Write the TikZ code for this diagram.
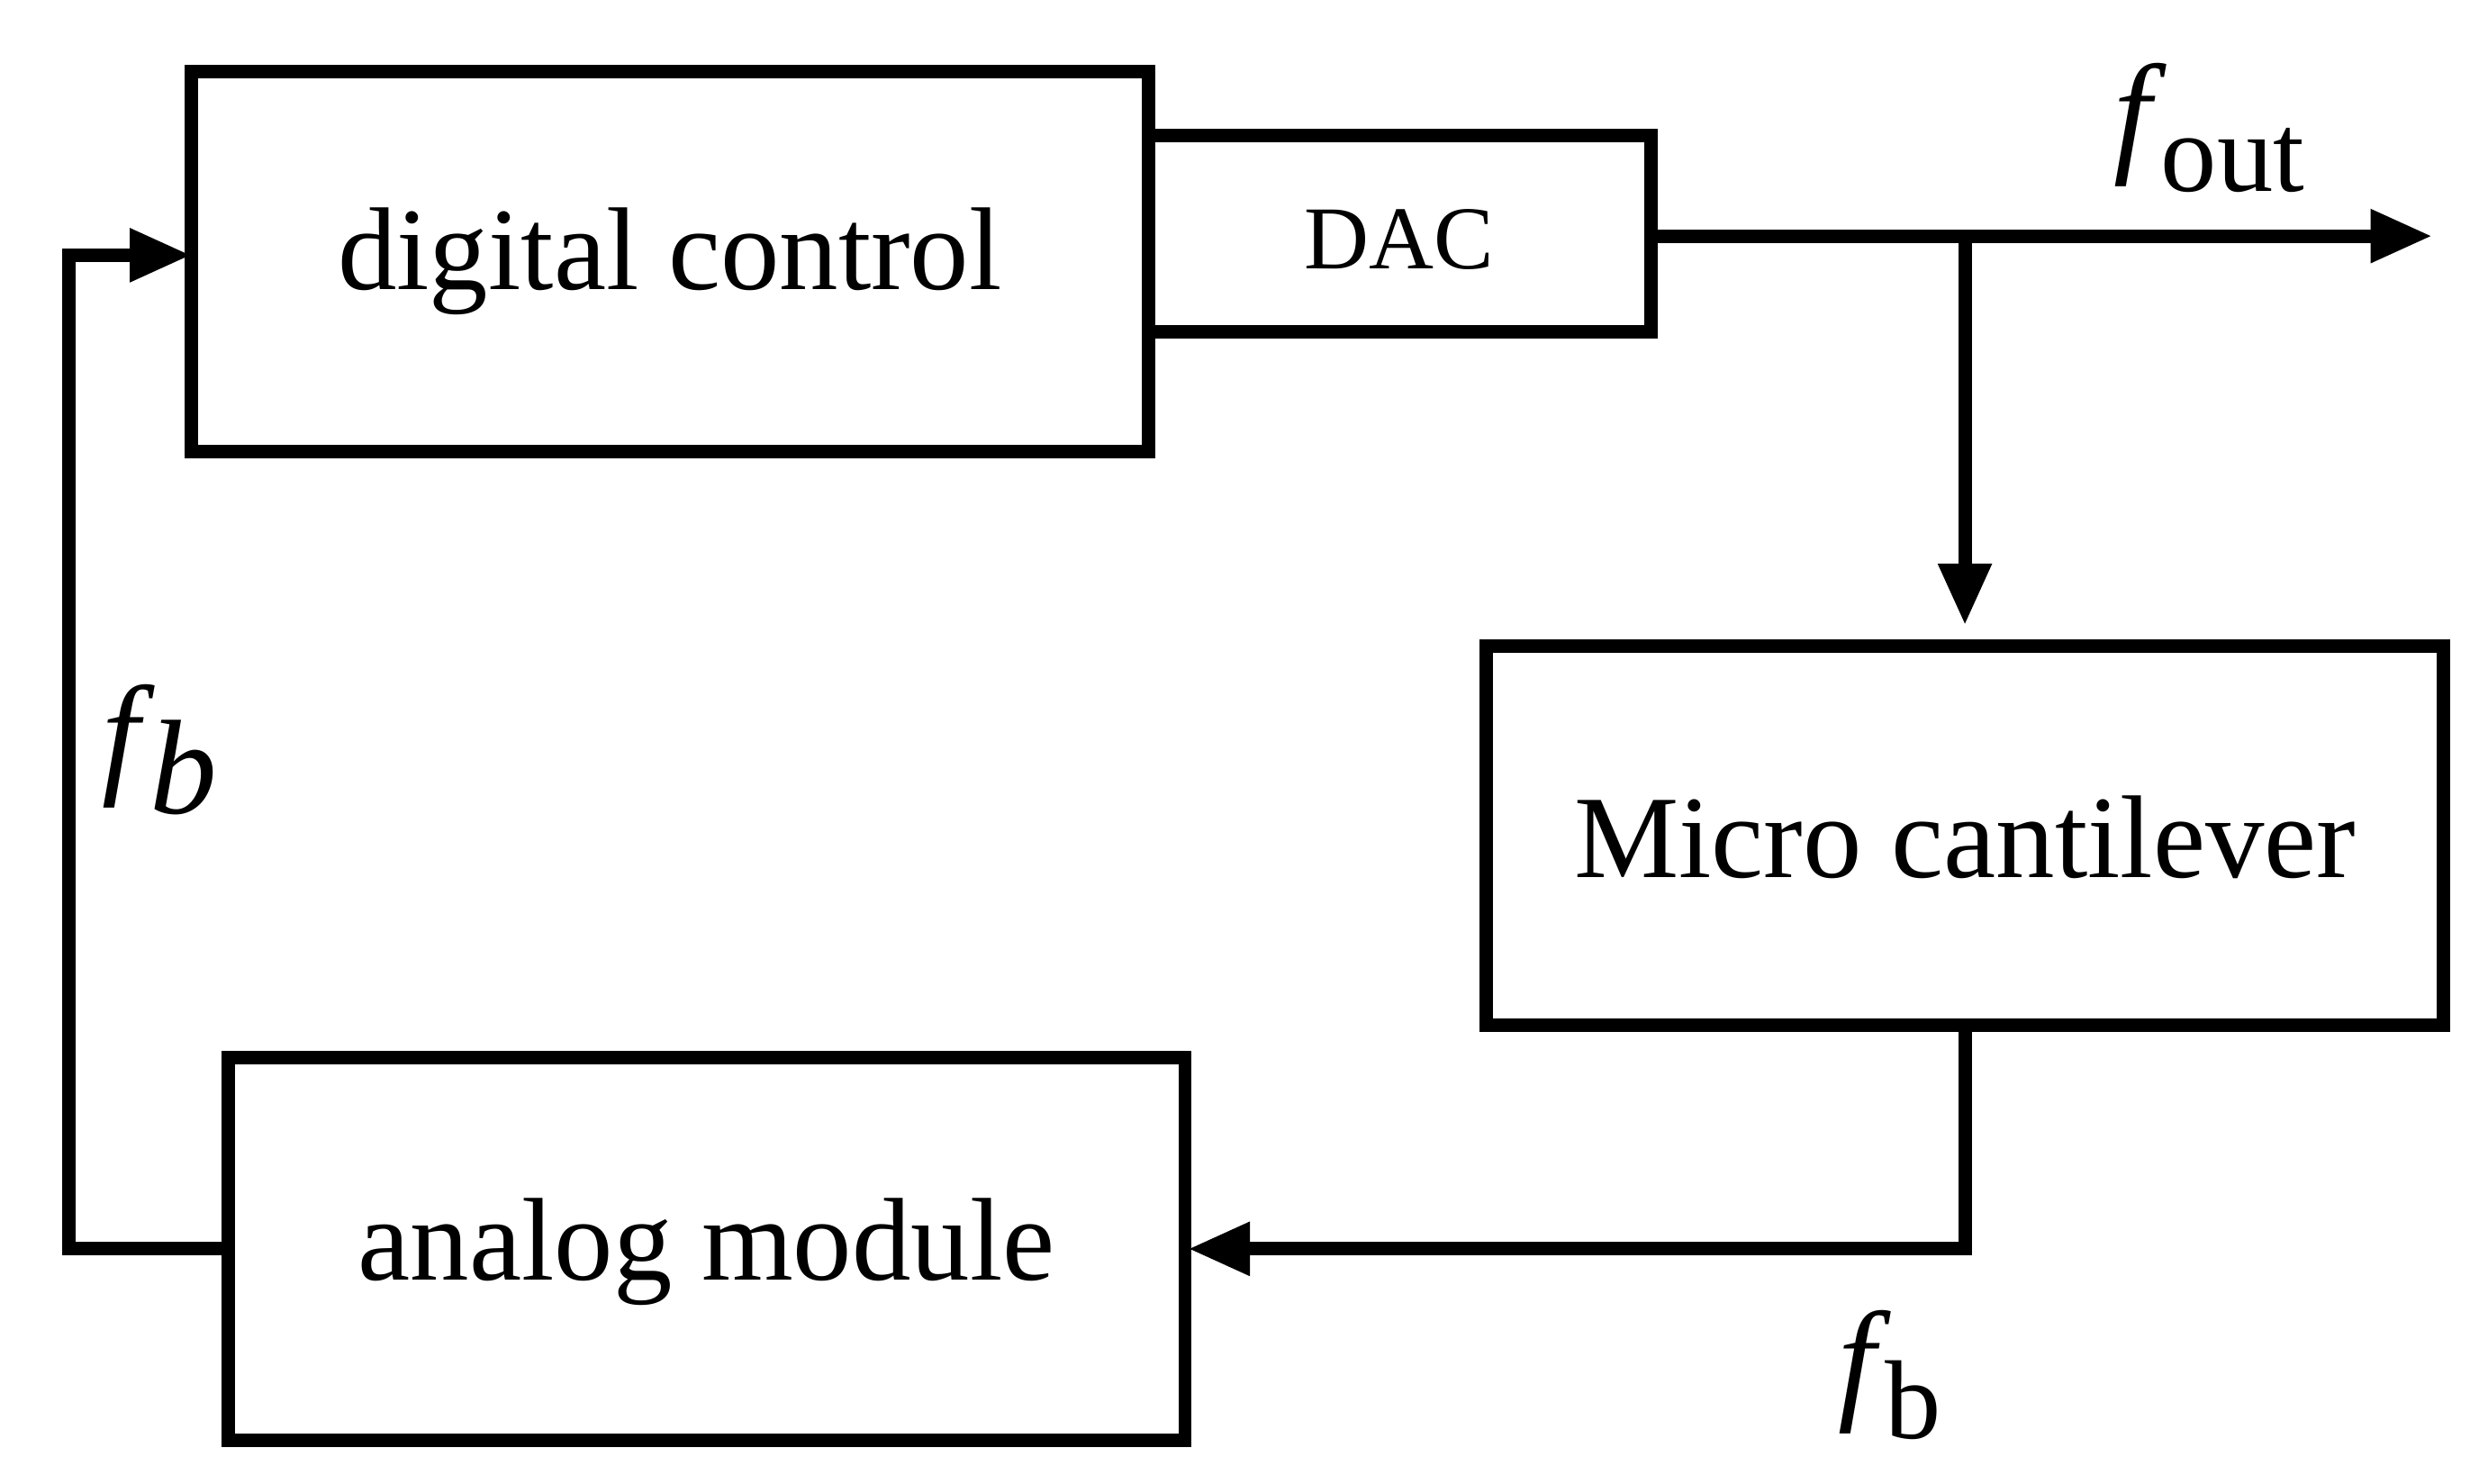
\documentclass[tikz,border=0pt]{standalone}
\usepackage{fontspec}
\setmainfont{Liberation Serif}
\usetikzlibrary{arrows.meta}
\begin{document}
\begin{tikzpicture}[x=0.01cm,y=-0.01cm,
  box/.style={draw,line width=2.4pt,inner sep=0pt},
  ln/.style={line width=2.4pt},
  arr/.style={ln,-{Triangle[length=11pt,width=9pt]}},
  lab/.style={font=\fontsize{21}{24}\selectfont}]
\useasboundingbox (0,0) rectangle (1560,930);
\draw[box] (120,45) rectangle (720,283);
\node[lab] (dc) at (420,164) {digital control};
\coordinate (dcw) at (120,160);
\draw[box] (720,85) rectangle (1035,208);
\node[font=\fontsize{16}{19}\selectfont] (dac) at (877,150) {DAC};
\coordinate (dace) at (1035,148);
\coordinate (out) at (1525,148);
\coordinate (br) at (1232,148);
\draw[box] (932,405) rectangle (1532,643);
\node[lab] (mc) at (1232,525) {Micro cantilever};
\coordinate (mct) at (1232,392);
\coordinate (mcb) at (1232,643);
\coordinate (c1) at (1232,783);
\draw[box] (143,663) rectangle (743,903);
\node[lab] (am) at (443,785) {analog module};
\coordinate (ame) at (745,783);
\coordinate (amw) at (143,783);
\coordinate (c2) at (43,783);
\coordinate (c3) at (43,160);
\draw[arr] (dace) -- (out);
\draw[arr] (br) -- (mct);
\draw[arr] (mcb) -- (c1) -- (ame);
\draw[arr] (amw) -- (c2) -- (c3) -- (dcw);
\node[font=\fontsize{24}{28}\selectfont] (l1) at (1385,80) {\textit{f}\kern-1pt\raisebox{-6pt}{\fontsize{20}{24}\selectfont out}};
\node[font=\fontsize{24}{28}\selectfont] (l2) at (100,470) {\textit{f}\kern-1pt\raisebox{-6pt}{\textit{b}}};
\node[font=\fontsize{24}{28}\selectfont] (l3) at (1185,862) {\textit{f}\kern-1pt\raisebox{-6pt}{\fontsize{20}{24}\selectfont b}};
\end{tikzpicture}
\end{document}
